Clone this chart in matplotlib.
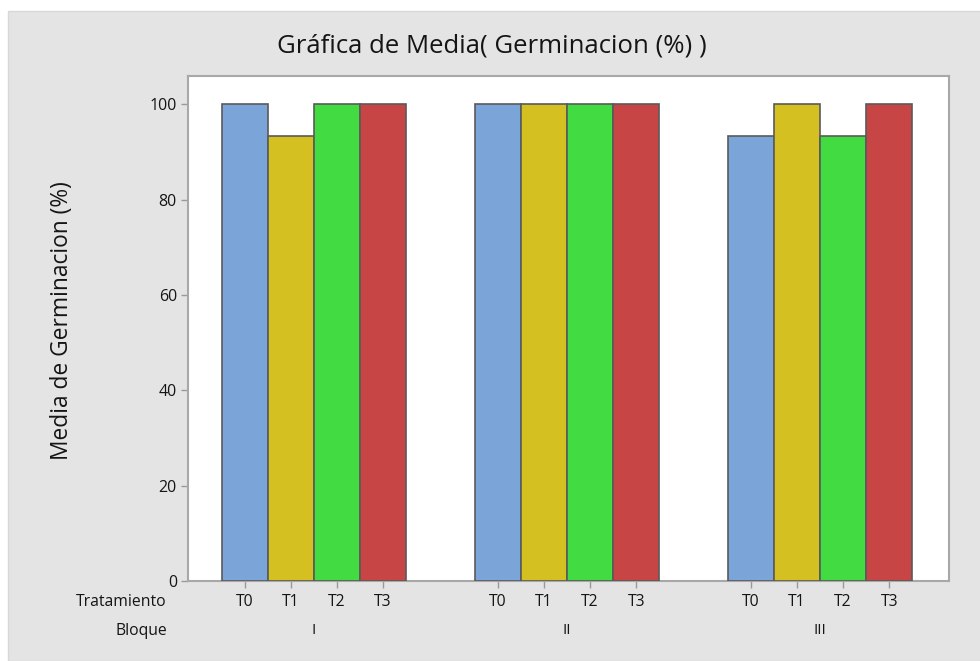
import matplotlib
matplotlib.use("Agg")
import matplotlib.pyplot as plt
from matplotlib.patches import Rectangle
import numpy as np

plt.rcParams['font.family'] = ['Open Sans', 'DejaVu Sans']

bloques = ['I', 'II', 'III']
tratamientos = ['T0', 'T1', 'T2', 'T3']
germ_I = [100, 93.33, 100, 100]
germ_II = [100, 100, 100, 100]
germ_III = [93.33, 100, 93.33, 100]
series = [germ_I, germ_II, germ_III]
colors = ['#7BA5D8', '#D4C020', '#42DC42', '#C84545']
txt = '#151515'

fig = plt.figure(figsize=(9.8, 6.61), dpi=100)
fig.patches.append(Rectangle((8/980, 0), 1, 1 - 11/661, transform=fig.transFigure,
                             facecolor='#E4E4E4', edgecolor='#D8D8D8', lw=1, zorder=-10))

ax = fig.add_axes([188/980, 1 - 581/661, (949-188)/980, (581-76)/661])
ax.set_facecolor('white')

group_gap = 5.5
xt, xl = [], []
for g, vals in enumerate(series):
    x = np.arange(len(tratamientos)) + g * group_gap
    ax.bar(x, vals, width=1.0, color=colors, edgecolor='#5A5A5A', linewidth=1.2, zorder=3)
    xt.extend(x)
    xl.extend(tratamientos)
    ax.text(x.mean(), -0.098, bloques[g], transform=ax.get_xaxis_transform(),
            ha='center', va='center', fontsize=11, color=txt, fontweight='medium')

ax.set_xlim(-1.24, 15.3)
ax.set_ylim(0, 105.9)
ax.set_yticks([0, 20, 40, 60, 80, 100])
ax.set_xticks(xt)
ax.set_xticklabels(xl, fontweight='medium')
ax.set_yticklabels([str(v) for v in [0, 20, 40, 60, 80, 100]], fontweight='medium')
ax.tick_params(axis='both', colors='#9A9A9A', labelcolor=txt, length=5, width=1,
               labelsize=11.5)
ax.tick_params(axis='y', pad=3)
ax.tick_params(axis='x', pad=4, labelsize=11.3)
for s in ax.spines.values():
    s.set_color('#A8A8A8')
    s.set_linewidth(1.5)

fig.text(167/980, 1 - 602/661, 'Tratamiento', ha='right', va='center', fontsize=11.3, color=txt,
         fontweight='medium')
fig.text(167/980, 1 - 631/661, 'Bloque', ha='right', va='center', fontsize=11.3, color=txt,
         fontweight='medium')
fig.text(62/980, 1 - 321/661, 'Media de Germinacion (%)', rotation=90, ha='center', va='center',
         fontsize=16.4, color=txt, fontweight='medium')
fig.text(492/980, 1 - 46/661, 'Gráfica de Media( Germinacion (%) )', ha='center', va='center',
         fontsize=18.5, color=txt, fontweight='medium')

fig.savefig('out.png', dpi=100)
